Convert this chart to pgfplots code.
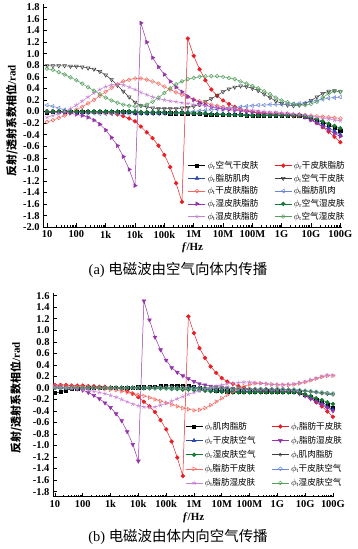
\documentclass[border=0pt]{standalone}
\usepackage{fontspec}
\setmainfont{Liberation Serif}
\newfontfamily\cjk{Noto Sans CJK SC}
\usepackage{pgfplots}
\pgfplotsset{compat=1.18}
\definecolor{cRed}{RGB}{232,30,36}
\definecolor{cRedL}{RGB}{244,105,95}
\definecolor{cBlue}{RGB}{40,70,170}
\definecolor{cBlueL}{RGB}{105,135,212}
\definecolor{cPur}{RGB}{150,50,170}
\definecolor{cVio}{RGB}{200,130,215}
\definecolor{cGrn}{RGB}{20,120,50}
\definecolor{cGrnL}{RGB}{85,160,95}
\definecolor{cGray}{RGB}{60,60,60}
\pgfplotsset{
  myaxis/.style={
    scale only axis, axis x line*=bottom, axis y line*=left,
    xtick={1,2,3,4,5,6,7,8,9,10,11},
    xticklabels={10,100,1k,10k,100k,1M,10M,100M,1G,10G,100G},
    minor xtick={1.301,1.477,1.602,1.699,1.778,1.845,1.903,1.954,
      2.301,2.477,2.602,2.699,2.778,2.845,2.903,2.954,
      3.301,3.477,3.602,3.699,3.778,3.845,3.903,3.954,
      4.301,4.477,4.602,4.699,4.778,4.845,4.903,4.954,
      5.301,5.477,5.602,5.699,5.778,5.845,5.903,5.954,
      6.301,6.477,6.602,6.699,6.778,6.845,6.903,6.954,
      7.301,7.477,7.602,7.699,7.778,7.845,7.903,7.954,
      8.301,8.477,8.602,8.699,8.778,8.845,8.903,8.954,
      9.301,9.477,9.602,9.699,9.778,9.845,9.903,9.954,
      10.301,10.477,10.602,10.699,10.778,10.845,10.903,10.954},
    tick align=inside, major tick length=4pt, minor tick length=2pt,
    tick style={black, line width=0.5pt},
    axis line style={line width=0.6pt},
    /pgf/number format/assume math mode=true,
    every tick label/.append style={font=\bfseries\fontsize{10.5}{12}\selectfont},
    yticklabel style={/pgf/number format/.cd, fixed, fixed zerofill, precision=1},
    xlabel={\textbf{\textit{f}/Hz}},
    xlabel style={font=\fontsize{11}{13}\selectfont, yshift=2pt},
    ylabel={{\cjk\bfseries 反射/透射系数相位}\textbf{/rad}},
    legend columns=2, legend cell align=left,
    legend style={draw=none, fill=none, font=\fontsize{8.6}{9.5}\selectfont,
      /tikz/every even column/.append style={column sep=14pt},
      nodes={inner ysep=2pt, inner xsep=2pt}},
    every axis plot/.append style={line width=0.5pt, mark size=1.9pt},
  }
}
\begin{document}
\begin{tikzpicture}[x=1bp,y=1bp]
\path[use as bounding box] (0,0) rectangle (357,549);
% ---------------- panel (a)
\begin{axis}[myaxis,
  at={(43.2bp,321.7bp)}, anchor=south west,
  width=298.6bp, height=222.9bp,
  xmin=0.87, xmax=11.05, ymin=-2.0, ymax=1.85,
  ytick={-2.0,-1.8,-1.6,-1.4,-1.2,-1.0,-0.8,-0.6,-0.4,-0.2,0,0.2,0.4,0.6,0.8,1.0,1.2,1.4,1.6,1.8},
  ylabel style={font=\fontsize{11}{13}\selectfont, at={(axis description cs:-0.105,0.477)}, anchor=center},
  legend style={at={(0.475,0.315)}, anchor=north west},
]
\addplot[black, mark=square*, mark size=1.6pt] coordinates {(1,-0.02)(1.2,-0.01)(1.4,-0.01)(1.6,-0.01)(1.8,-0.01)(2,-0.01)(2.2,-0.01)(2.4,-0.01)(2.6,-0.01)(2.8,-0.01)(3,-0.01)(3.2,-0.01)(3.4,-0.01)(3.6,-0.01)(3.8,-0.01)(4,-0.02)(4.2,-0.02)(4.4,-0.02)(4.6,-0.02)(4.8,-0.02)(5,-0.02)(5.2,-0.03)(5.4,-0.03)(5.6,-0.03)(5.8,-0.04)(6,-0.04)(6.2,-0.04)(6.4,-0.05)(6.6,-0.05)(6.8,-0.05)(7,-0.06)(7.2,-0.06)(7.4,-0.06)(7.6,-0.06)(7.8,-0.07)(8,-0.07)(8.2,-0.07)(8.4,-0.07)(8.6,-0.07)(8.8,-0.07)(9,-0.07)(9.2,-0.07)(9.4,-0.07)(9.6,-0.07)(9.8,-0.09)(10,-0.12)(10.2,-0.15)(10.4,-0.19)(10.6,-0.23)(10.8,-0.28)(11,-0.33)};
\addlegendentry{$\phi_\mathrm{r}$\cjk 空气干皮肤}
\addplot[cRed, mark=*] coordinates {(1,0)(1.2,0)(1.4,0)(1.6,0)(1.8,0)(2,0)(2.2,0)(2.4,-0.01)(2.6,-0.01)(2.8,-0.01)(3,-0.02)(3.2,-0.03)(3.4,-0.05)(3.6,-0.08)(3.8,-0.12)(4,-0.17)(4.2,-0.26)(4.4,-0.36)(4.6,-0.46)(4.8,-0.59)(5,-0.75)(5.2,-0.96)(5.4,-1.24)(5.6,-1.56)(5.8,1.26)(6,0.96)(6.2,0.73)(6.4,0.54)(6.6,0.38)(6.8,0.27)(7,0.19)(7.2,0.13)(7.4,0.08)(7.6,0.04)(7.8,0.01)(8,-0.01)(8.2,-0.03)(8.4,-0.04)(8.6,-0.05)(8.8,-0.06)(9,-0.07)(9.2,-0.07)(9.4,-0.08)(9.6,-0.08)(9.8,-0.1)(10,-0.14)(10.2,-0.2)(10.4,-0.27)(10.6,-0.35)(10.8,-0.44)(11,-0.53)};
\addlegendentry{$\phi_\mathrm{r}$\cjk 干皮肤脂肪}
\addplot[cBlue, mark=triangle*, mark size=2.2pt] coordinates {(1,0)(1.2,0)(1.4,0)(1.6,0)(1.8,0)(2,0)(2.2,0)(2.4,0)(2.6,0)(2.8,0)(3,0)(3.2,0)(3.4,0)(3.6,0)(3.8,0)(4,0)(4.2,-0.01)(4.4,-0.01)(4.6,-0.01)(4.8,-0.01)(5,-0.01)(5.2,-0.02)(5.4,-0.02)(5.6,-0.02)(5.8,-0.02)(6,-0.03)(6.2,-0.03)(6.4,-0.03)(6.6,-0.04)(6.8,-0.04)(7,-0.04)(7.2,-0.05)(7.4,-0.05)(7.6,-0.05)(7.8,-0.05)(8,-0.06)(8.2,-0.06)(8.4,-0.06)(8.6,-0.06)(8.8,-0.06)(9,-0.06)(9.2,-0.06)(9.4,-0.06)(9.6,-0.06)(9.8,-0.1)(10,-0.14)(10.2,-0.18)(10.4,-0.23)(10.6,-0.28)(10.8,-0.34)(11,-0.4)};
\addlegendentry{$\phi_\mathrm{r}$\cjk 脂肪肌肉}
\addplot[cGray, mark=triangle, mark size=2.2pt, mark options={fill=white, rotate=180}] coordinates {(1,0.79)(1.2,0.79)(1.4,0.79)(1.6,0.79)(1.8,0.78)(2,0.78)(2.2,0.77)(2.4,0.75)(2.6,0.73)(2.8,0.69)(3,0.63)(3.2,0.55)(3.4,0.45)(3.6,0.35)(3.8,0.25)(4,0.16)(4.2,0.1)(4.4,0.08)(4.6,0.06)(4.8,0.05)(5,0.05)(5.2,0.05)(5.4,0.05)(5.6,0.06)(5.8,0.07)(6,0.09)(6.2,0.12)(6.4,0.17)(6.6,0.22)(6.8,0.28)(7,0.34)(7.2,0.39)(7.4,0.42)(7.6,0.44)(7.8,0.43)(8,0.4)(8.2,0.36)(8.4,0.3)(8.6,0.24)(8.8,0.18)(9,0.14)(9.2,0.11)(9.4,0.1)(9.6,0.11)(9.8,0.14)(10,0.19)(10.2,0.25)(10.4,0.31)(10.6,0.35)(10.8,0.36)(11,0.34)};
\addlegendentry{$\phi_\mathrm{t}$\cjk 空气干皮肤}
\addplot[cRedL, mark=o, mark options={fill=white}] coordinates {(1,-0.18)(1.2,-0.15)(1.4,-0.11)(1.6,-0.07)(1.8,-0.02)(2,0.03)(2.2,0.08)(2.4,0.14)(2.6,0.2)(2.8,0.27)(3,0.34)(3.2,0.41)(3.4,0.47)(3.6,0.52)(3.8,0.55)(4,0.57)(4.2,0.57)(4.4,0.55)(4.6,0.52)(4.8,0.48)(5,0.43)(5.2,0.38)(5.4,0.33)(5.6,0.29)(5.8,0.25)(6,0.21)(6.2,0.18)(6.4,0.15)(6.6,0.12)(6.8,0.1)(7,0.08)(7.2,0.06)(7.4,0.04)(7.6,0.03)(7.8,0.02)(8,0)(8.2,-0.01)(8.4,-0.02)(8.6,-0.03)(8.8,-0.03)(9,-0.04)(9.2,-0.04)(9.4,-0.05)(9.6,-0.05)(9.8,-0.06)(10,-0.07)(10.2,-0.08)(10.4,-0.09)(10.6,-0.1)(10.8,-0.11)(11,-0.12)};
\addlegendentry{$\phi_\mathrm{t}$\cjk 干皮肤脂肪}
\addplot[cBlueL, mark=triangle, mark size=2.2pt, mark options={fill=white, rotate=90}] coordinates {(1,0.11)(1.2,0.09)(1.4,0.06)(1.6,0.03)(1.8,0.01)(2,-0.01)(2.2,-0.02)(2.4,-0.03)(2.6,-0.03)(2.8,-0.04)(3,-0.04)(3.2,-0.04)(3.4,-0.04)(3.6,-0.04)(3.8,-0.04)(4,-0.04)(4.2,-0.04)(4.4,-0.04)(4.6,-0.04)(4.8,-0.04)(5,-0.04)(5.2,-0.03)(5.4,-0.03)(5.6,-0.02)(5.8,-0.01)(6,0)(6.2,0.01)(6.4,0.02)(6.6,0.03)(6.8,0.04)(7,0.05)(7.2,0.06)(7.4,0.07)(7.6,0.08)(7.8,0.09)(8,0.1)(8.2,0.11)(8.4,0.11)(8.6,0.12)(8.8,0.12)(9,0.12)(9.2,0.13)(9.4,0.13)(9.6,0.14)(9.8,0.15)(10,0.17)(10.2,0.19)(10.4,0.21)(10.6,0.23)(10.8,0.24)(11,0.25)};
\addlegendentry{$\phi_\mathrm{t}$\cjk 脂肪肌肉}
\addplot[cPur, mark=triangle*, mark size=2.2pt, mark options={rotate=-90}] coordinates {(1,0)(1.2,0)(1.4,-0.01)(1.6,-0.02)(1.8,-0.03)(2,-0.05)(2.2,-0.07)(2.4,-0.1)(2.6,-0.15)(2.8,-0.22)(3,-0.32)(3.2,-0.45)(3.4,-0.59)(3.6,-0.78)(3.8,-1.0)(4,-1.28)(4.2,1.53)(4.4,1.2)(4.6,0.93)(4.8,0.77)(5,0.64)(5.2,0.52)(5.4,0.42)(5.6,0.34)(5.8,0.26)(6,0.2)(6.2,0.15)(6.4,0.11)(6.6,0.08)(6.8,0.06)(7,0.04)(7.2,0.03)(7.4,0.02)(7.6,0.01)(7.8,0)(8,-0.01)(8.2,-0.02)(8.4,-0.03)(8.6,-0.04)(8.8,-0.04)(9,-0.05)(9.2,-0.05)(9.4,-0.06)(9.6,-0.07)(9.8,-0.1)(10,-0.15)(10.2,-0.2)(10.4,-0.26)(10.6,-0.32)(10.8,-0.38)(11,-0.43)};
\addlegendentry{$\phi_\mathrm{r}$\cjk 湿皮肤脂肪}
\addplot[cGrn, mark=*] coordinates {(1,0)(1.2,0)(1.4,0)(1.6,0)(1.8,0)(2,0)(2.2,0)(2.4,0)(2.6,0)(2.8,0)(3,0)(3.2,0)(3.4,0)(3.6,0)(3.8,0)(4,0)(4.2,-0.01)(4.4,-0.01)(4.6,-0.01)(4.8,-0.01)(5,-0.01)(5.2,-0.02)(5.4,-0.02)(5.6,-0.02)(5.8,-0.02)(6,-0.03)(6.2,-0.03)(6.4,-0.03)(6.6,-0.05)(6.8,-0.05)(7,-0.05)(7.2,-0.06)(7.4,-0.06)(7.6,-0.06)(7.8,-0.07)(8,-0.07)(8.2,-0.07)(8.4,-0.07)(8.6,-0.07)(8.8,-0.07)(9,-0.07)(9.2,-0.07)(9.4,-0.07)(9.6,-0.07)(9.8,-0.08)(10,-0.1)(10.2,-0.13)(10.4,-0.17)(10.6,-0.21)(10.8,-0.25)(11,-0.29)};
\addlegendentry{$\phi_\mathrm{r}$\cjk 空气湿皮肤}
\addplot[cVio, mark=star, mark size=2.2pt] coordinates {(1,-0.1)(1.2,-0.07)(1.4,-0.04)(1.6,0)(1.8,0.05)(2,0.11)(2.2,0.18)(2.4,0.25)(2.6,0.32)(2.8,0.38)(3,0.43)(3.2,0.46)(3.4,0.47)(3.6,0.46)(3.8,0.42)(4,0.38)(4.2,0.33)(4.4,0.29)(4.6,0.25)(4.8,0.22)(5,0.2)(5.2,0.18)(5.4,0.17)(5.6,0.15)(5.8,0.14)(6,0.12)(6.2,0.11)(6.4,0.1)(6.6,0.08)(6.8,0.07)(7,0.06)(7.2,0.05)(7.4,0.04)(7.6,0.03)(7.8,0.02)(8,0.02)(8.2,0.01)(8.4,0)(8.6,-0.01)(8.8,-0.01)(9,-0.02)(9.2,-0.03)(9.4,-0.04)(9.6,-0.05)(9.8,-0.06)(10,-0.08)(10.2,-0.1)(10.4,-0.12)(10.6,-0.13)(10.8,-0.15)(11,-0.16)};
\addlegendentry{$\phi_\mathrm{t}$\cjk 湿皮肤脂肪}
\addplot[cGrnL, mark=o, mark options={fill=white}] coordinates {(1,0.74)(1.2,0.72)(1.4,0.68)(1.6,0.64)(1.8,0.59)(2,0.54)(2.2,0.48)(2.4,0.42)(2.6,0.36)(2.8,0.3)(3,0.24)(3.2,0.19)(3.4,0.15)(3.6,0.12)(3.8,0.1)(4,0.09)(4.2,0.1)(4.4,0.12)(4.6,0.17)(4.8,0.24)(5,0.32)(5.2,0.4)(5.4,0.47)(5.6,0.52)(5.8,0.56)(6,0.58)(6.2,0.6)(6.4,0.61)(6.6,0.61)(6.8,0.61)(7,0.6)(7.2,0.58)(7.4,0.56)(7.6,0.52)(7.8,0.48)(8,0.44)(8.2,0.4)(8.4,0.35)(8.6,0.3)(8.8,0.24)(9,0.19)(9.2,0.16)(9.4,0.13)(9.6,0.11)(9.8,0.11)(10,0.13)(10.2,0.17)(10.4,0.24)(10.6,0.31)(10.8,0.35)(11,0.34)};
\addlegendentry{$\phi_\mathrm{t}$\cjk 空气湿皮肤}
\end{axis}
\node[font=\fontsize{14.5}{16}\selectfont] at (178,279) {(a)~{\cjk 电磁波由空气向体内传播}};
% ---------------- panel (b)
\begin{axis}[myaxis,
  at={(53bp,52.2bp)}, anchor=south west,
  width=281.3bp, height=204bp,
  xmin=0.93, xmax=11.05, ymin=-1.89, ymax=1.65,
  ytick={-1.8,-1.6,-1.4,-1.2,-1.0,-0.8,-0.6,-0.4,-0.2,0,0.2,0.4,0.6,0.8,1.0,1.2,1.4,1.6},
  ylabel style={font=\fontsize{11}{13}\selectfont, at={(axis description cs:-0.1315,0.484)}, anchor=center},
  legend style={at={(0.459,0.39)}, anchor=north west, nodes={inner ysep=2.7pt}},
]
\addplot[black, mark=square*, mark size=1.6pt] coordinates {(1,-0.09)(1.2,-0.07)(1.4,-0.04)(1.6,-0.02)(1.8,-0.01)(2,0)(2.2,0)(2.4,0)(2.6,0)(2.8,0)(3,0)(3.2,0)(3.4,0)(3.6,0)(3.8,0)(4,0.01)(4.2,0.01)(4.4,0.02)(4.6,0.02)(4.8,0.03)(5,0.03)(5.2,0.04)(5.4,0.04)(5.6,0.04)(5.8,0.03)(6,0.02)(6.2,0)(6.4,-0.01)(6.6,-0.03)(6.8,-0.04)(7,-0.05)(7.2,-0.06)(7.4,-0.06)(7.6,-0.06)(7.8,-0.06)(8,-0.06)(8.2,-0.06)(8.4,-0.06)(8.6,-0.06)(8.8,-0.06)(9,-0.06)(9.2,-0.06)(9.4,-0.06)(9.6,-0.07)(9.8,-0.09)(10,-0.12)(10.2,-0.16)(10.4,-0.2)(10.6,-0.25)(10.8,-0.3)(11,-0.35)};
\addlegendentry{$\phi_\mathrm{r}$\cjk 肌肉脂肪}
\addplot[cRed, mark=*] coordinates {(1,0.05)(1.2,0.05)(1.4,0.05)(1.6,0.04)(1.8,0.04)(2,0.04)(2.2,0.03)(2.4,0.03)(2.6,0.02)(2.8,0.02)(3,0.01)(3.2,0)(3.4,-0.02)(3.6,-0.05)(3.8,-0.1)(4,-0.16)(4.2,-0.24)(4.4,-0.32)(4.6,-0.42)(4.8,-0.56)(5,-0.72)(5.2,-0.93)(5.4,-1.21)(5.6,-1.53)(5.8,1.24)(6,0.95)(6.2,0.69)(6.4,0.52)(6.6,0.37)(6.8,0.26)(7,0.17)(7.2,0.11)(7.4,0.07)(7.6,0.03)(7.8,0)(8,-0.02)(8.2,-0.03)(8.4,-0.04)(8.6,-0.05)(8.8,-0.05)(9,-0.06)(9.2,-0.06)(9.4,-0.06)(9.6,-0.07)(9.8,-0.08)(10,-0.12)(10.2,-0.18)(10.4,-0.25)(10.6,-0.32)(10.8,-0.41)(11,-0.5)};
\addlegendentry{$\phi_\mathrm{r}$\cjk 脂肪干皮肤}
\addplot[cBlue, mark=triangle*, mark size=2.2pt] coordinates {(1,0)(1.2,0)(1.4,0)(1.6,0)(1.8,0)(2,0)(2.2,0)(2.4,0)(2.6,0)(2.8,0)(3,0)(3.2,0)(3.4,0)(3.6,0)(3.8,0)(4,0)(4.2,0)(4.4,0)(4.6,0)(4.8,0)(5,0)(5.2,0)(5.4,0)(5.6,0)(5.8,0)(6,0)(6.2,-0.02)(6.4,-0.02)(6.6,-0.03)(6.8,-0.04)(7,-0.04)(7.2,-0.05)(7.4,-0.05)(7.6,-0.05)(7.8,-0.05)(8,-0.05)(8.2,-0.05)(8.4,-0.05)(8.6,-0.05)(8.8,-0.05)(9,-0.05)(9.2,-0.05)(9.4,-0.05)(9.6,-0.05)(9.8,-0.08)(10,-0.12)(10.2,-0.17)(10.4,-0.22)(10.6,-0.27)(10.8,-0.33)(11,-0.38)};
\addlegendentry{$\phi_\mathrm{r}$\cjk 干皮肤空气}
\addplot[cPur, mark=triangle*, mark size=2.2pt, mark options={rotate=180}] coordinates {(1,0.03)(1.2,0.02)(1.4,0.01)(1.6,0)(1.8,-0.02)(2,-0.04)(2.2,-0.08)(2.4,-0.13)(2.6,-0.19)(2.8,-0.26)(3,-0.34)(3.2,-0.45)(3.4,-0.57)(3.6,-0.76)(3.8,-0.98)(4,-1.27)(4.2,1.51)(4.4,1.18)(4.6,0.88)(4.8,0.66)(5,0.48)(5.2,0.35)(5.4,0.27)(5.6,0.21)(5.8,0.16)(6,0.11)(6.2,0.07)(6.4,0.05)(6.6,0.03)(6.8,0.02)(7,0.01)(7.2,0)(7.4,-0.01)(7.6,-0.02)(7.8,-0.03)(8,-0.03)(8.2,-0.04)(8.4,-0.04)(8.6,-0.05)(8.8,-0.05)(9,-0.05)(9.2,-0.06)(9.4,-0.06)(9.6,-0.07)(9.8,-0.1)(10,-0.14)(10.2,-0.19)(10.4,-0.24)(10.6,-0.29)(10.8,-0.35)(11,-0.4)};
\addlegendentry{$\phi_\mathrm{r}$\cjk 脂肪湿皮肤}
\addplot[cGrn, mark=*] coordinates {(1,0)(1.2,0)(1.4,0)(1.6,0)(1.8,0)(2,0)(2.2,0)(2.4,0)(2.6,0)(2.8,0)(3,0)(3.2,0)(3.4,0)(3.6,0)(3.8,0)(4,0)(4.2,-0.01)(4.4,-0.01)(4.6,-0.01)(4.8,-0.01)(5,-0.01)(5.2,-0.02)(5.4,-0.02)(5.6,-0.03)(5.8,-0.03)(6,-0.04)(6.2,-0.04)(6.4,-0.05)(6.6,-0.06)(6.8,-0.06)(7,-0.07)(7.2,-0.07)(7.4,-0.08)(7.6,-0.08)(7.8,-0.08)(8,-0.08)(8.2,-0.08)(8.4,-0.08)(8.6,-0.08)(8.8,-0.08)(9,-0.08)(9.2,-0.08)(9.4,-0.08)(9.6,-0.08)(9.8,-0.09)(10,-0.11)(10.2,-0.14)(10.4,-0.18)(10.6,-0.21)(10.8,-0.25)(11,-0.28)};
\addlegendentry{$\phi_\mathrm{r}$\cjk 湿皮肤空气}
\addplot[cGray, mark=o, mark size=1.5pt, mark options={fill=white}] coordinates {(1,0)(1.2,0)(1.4,0)(1.6,0)(1.8,0)(2,0)(2.2,0)(2.4,0)(2.6,0)(2.8,0)(3,0)(3.2,0)(3.4,0)(3.6,0)(3.8,0)(4,0)(4.2,0)(4.4,0)(4.6,0)(4.8,0)(5,0)(5.2,0)(5.4,0)(5.6,0)(5.8,0)(6,0)(6.2,0)(6.4,-0.01)(6.6,-0.01)(6.8,-0.01)(7,-0.02)(7.2,-0.02)(7.4,-0.02)(7.6,-0.02)(7.8,-0.03)(8,-0.03)(8.2,-0.03)(8.4,-0.03)(8.6,-0.03)(8.8,-0.03)(9,-0.03)(9.2,-0.03)(9.4,-0.03)(9.6,-0.04)(9.8,-0.05)(10,-0.06)(10.2,-0.07)(10.4,-0.08)(10.6,-0.1)(10.8,-0.11)(11,-0.12)};
\addlegendentry{$\phi_\mathrm{t}$\cjk 肌肉脂肪}
\addplot[cRedL, mark=triangle, mark size=2.2pt, mark options={fill=white, rotate=-90}] coordinates {(1,0.04)(1.2,0.04)(1.4,0.03)(1.6,0.03)(1.8,0.02)(2,0.02)(2.2,0.01)(2.4,0)(2.6,-0.01)(2.8,-0.02)(3,-0.03)(3.2,-0.04)(3.4,-0.06)(3.6,-0.08)(3.8,-0.1)(4,-0.12)(4.2,-0.14)(4.4,-0.17)(4.6,-0.2)(4.8,-0.23)(5,-0.26)(5.2,-0.29)(5.4,-0.32)(5.6,-0.35)(5.8,-0.37)(6,-0.39)(6.2,-0.38)(6.4,-0.35)(6.6,-0.3)(6.8,-0.24)(7,-0.18)(7.2,-0.12)(7.4,-0.06)(7.6,-0.01)(7.8,0.03)(8,0.06)(8.2,0.08)(8.4,0.08)(8.6,0.07)(8.8,0.06)(9,0.05)(9.2,0.05)(9.4,0.05)(9.6,0.06)(9.8,0.08)(10,0.1)(10.2,0.13)(10.4,0.16)(10.6,0.19)(10.8,0.21)(11,0.21)};
\addlegendentry{$\phi_\mathrm{t}$\cjk 脂肪干皮肤}
\addplot[cBlueL, mark=o, mark options={fill=white}] coordinates {(1,0)(1.2,0)(1.4,0)(1.6,0)(1.8,0)(2,0)(2.2,0)(2.4,0)(2.6,0)(2.8,0)(3,0)(3.2,0)(3.4,0)(3.6,0)(3.8,0)(4,0)(4.2,0)(4.4,0)(4.6,0)(4.8,0)(5,0)(5.2,0)(5.4,0)(5.6,0)(5.8,0)(6,0)(6.2,0)(6.4,0)(6.6,-0.01)(6.8,-0.01)(7,-0.01)(7.2,-0.01)(7.4,-0.02)(7.6,-0.02)(7.8,-0.02)(8,-0.02)(8.2,-0.02)(8.4,-0.02)(8.6,-0.02)(8.8,-0.02)(9,-0.02)(9.2,-0.02)(9.4,-0.03)(9.6,-0.03)(9.8,-0.04)(10,-0.05)(10.2,-0.06)(10.4,-0.07)(10.6,-0.08)(10.8,-0.09)(11,-0.1)};
\addlegendentry{$\phi_\mathrm{t}$\cjk 干皮肤空气}
\addplot[cVio, mark=star, mark size=2.2pt] coordinates {(1,0.01)(1.2,0)(1.4,0)(1.6,-0.01)(1.8,-0.02)(2,-0.03)(2.2,-0.04)(2.4,-0.06)(2.6,-0.08)(2.8,-0.1)(3,-0.13)(3.2,-0.16)(3.4,-0.2)(3.6,-0.24)(3.8,-0.28)(4,-0.31)(4.2,-0.33)(4.4,-0.34)(4.6,-0.33)(4.8,-0.3)(5,-0.27)(5.2,-0.23)(5.4,-0.19)(5.6,-0.15)(5.8,-0.11)(6,-0.08)(6.2,-0.05)(6.4,-0.02)(6.6,0)(6.8,0.03)(7,0.05)(7.2,0.07)(7.4,0.08)(7.6,0.09)(7.8,0.1)(8,0.1)(8.2,0.09)(8.4,0.08)(8.6,0.07)(8.8,0.06)(9,0.06)(9.2,0.06)(9.4,0.06)(9.6,0.07)(9.8,0.09)(10,0.11)(10.2,0.14)(10.4,0.17)(10.6,0.2)(10.8,0.22)(11,0.22)};
\addlegendentry{$\phi_\mathrm{t}$\cjk 脂肪湿皮肤}
\addplot[cGrnL, mark=o, mark options={fill=white}] coordinates {(1,0)(1.2,0)(1.4,0)(1.6,0)(1.8,0)(2,0)(2.2,0)(2.4,0)(2.6,0)(2.8,0)(3,0)(3.2,0)(3.4,0)(3.6,0)(3.8,0)(4,0)(4.2,0)(4.4,0)(4.6,0)(4.8,0)(5,0)(5.2,0)(5.4,0)(5.6,0)(5.8,0)(6,0)(6.2,0)(6.4,0)(6.6,0)(6.8,0)(7,0)(7.2,-0.01)(7.4,-0.01)(7.6,-0.01)(7.8,-0.02)(8,-0.02)(8.2,-0.02)(8.4,-0.02)(8.6,-0.02)(8.8,-0.02)(9,-0.02)(9.2,-0.03)(9.4,-0.03)(9.6,-0.03)(9.8,-0.04)(10,-0.05)(10.2,-0.06)(10.4,-0.07)(10.6,-0.08)(10.8,-0.09)(11,-0.1)};
\addlegendentry{$\phi_\mathrm{t}$\cjk 湿皮肤空气}
\end{axis}
\node[font=\fontsize{14.5}{16}\selectfont] at (178,12.5) {(b)~{\cjk 电磁波由体内向空气传播}};
\end{tikzpicture}
\end{document}
